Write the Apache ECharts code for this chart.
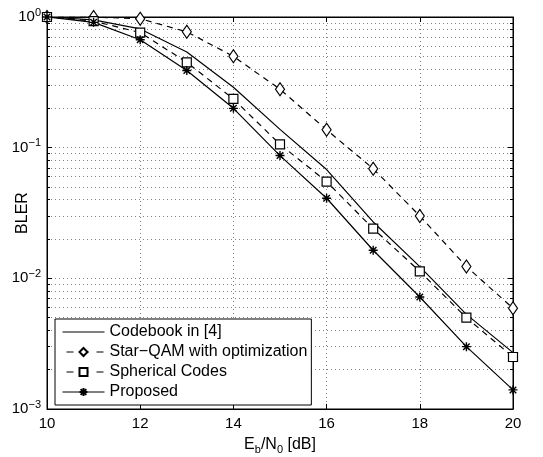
<!DOCTYPE html>
<html>
<head>
<meta charset="utf-8">
<script src="https://cdn.jsdelivr.net/npm/echarts@6/dist/echarts.min.js"></script>
<style>html,body{margin:0;padding:0;background:#fff}#c{width:543px;height:457px}</style>
</head>
<body>
<div id="c"></div>
<script>
var ebn0 = [10, 11, 12, 13, 14, 15, 16, 17, 18, 19, 20];
var codebook = [1.0, 0.95, 0.81, 0.54, 0.29, 0.138, 0.068, 0.027, 0.0123, 0.0053, 0.0027];
var starQAM = [1.0, 1.0, 0.97, 0.77, 0.50, 0.28, 0.137, 0.069, 0.030, 0.0123, 0.0059];
var spherical = [1.0, 0.93, 0.76, 0.45, 0.236, 0.106, 0.055, 0.024, 0.0113, 0.0050, 0.0025];
var proposed = [1.0, 0.91, 0.67, 0.39, 0.20, 0.087, 0.041, 0.0164, 0.0072, 0.0030, 0.0014];
var seriesNames = ['Codebook in [4]', 'Star\u2212QAM with optimization', 'Spherical Codes', 'Proposed'];

function pairs(v) { return ebn0.map(function (x, i) { return [x, v[i]]; }); }

var font = 'Liberation Sans';
var asterisk = 'path://M0,-5L0,5M-5,0L5,0M-3.6,-3.6L3.6,3.6M-3.6,3.6L3.6,-3.6';

var chart = echarts.init(document.getElementById('c'), null, {renderer: 'canvas'});
var gridLine = {show: true, lineStyle: {color: '#808080', type: [1, 3], width: 1}};
chart.setOption({
  animation: false,
  backgroundColor: '#fff',
  textStyle: {fontFamily: font},
  grid: {left: 47, right: 30, top: 17, bottom: 48, containLabel: false, outerBoundsMode: 'none',
    show: true, borderColor: '#000', borderWidth: 1, backgroundColor: 'transparent'},
  legend: {
    orient: 'vertical', left: 55, top: 319,
    backgroundColor: '#fff', borderColor: '#000', borderWidth: 1,
    padding: [5, 4, 5, 7], itemGap: 4, itemWidth: 42, itemHeight: 10,
    textStyle: {fontFamily: font, fontSize: 16, lineHeight: 16, color: '#000'},
    lineStyle: {width: 1},
    data: [
      {name: seriesNames[0], itemStyle: {color: 'transparent', borderWidth: 0, opacity: 0}},
      {name: seriesNames[1], lineStyle: {type: [7, 8], dashOffset: -4}},
      {name: seriesNames[2], lineStyle: {type: [7, 8], dashOffset: -4}},
      seriesNames[3]
    ]
  },
  xAxis: [{
    type: 'value', min: 10, max: 20, interval: 2,
    name: 'E{sub|b}/N{sub|0} [dB]', nameLocation: 'middle', nameGap: 26, nameMoveOverlap: false,
    nameTextStyle: {fontFamily: font, fontSize: 16, color: '#000',
      rich: {sub: {fontFamily: font, fontSize: 11, color: '#000', verticalAlign: 'bottom', padding: [9, 0, 0, 0]}}},
    axisLine: {show: true, lineStyle: {color: '#000'}},
    axisTick: {show: true, inside: true, length: 5, lineStyle: {color: '#000'}},
    axisLabel: {fontFamily: font, fontSize: 15, color: '#000', margin: 7},
    splitLine: gridLine
  }, {
    type: 'value', min: 10, max: 20, interval: 2, position: 'top',
    axisLine: {show: true, lineStyle: {color: '#000'}},
    axisTick: {show: true, inside: true, length: 5, lineStyle: {color: '#000'}},
    axisLabel: {show: false}, splitLine: {show: false}
  }],
  yAxis: [{
    type: 'log', logBase: 10, min: 0.001, max: 1,
    name: 'BLER', nameLocation: 'middle', nameGap: 16, nameRotate: 90, nameMoveOverlap: false,
    nameTextStyle: {fontFamily: font, fontSize: 16, color: '#000'},
    axisLine: {show: true, lineStyle: {color: '#000'}},
    axisTick: {show: true, inside: true, length: 5, lineStyle: {color: '#000'}},
    minorTick: {show: true, splitNumber: 9, length: 3, lineStyle: {color: '#000'}},
    minorSplitLine: {show: true, lineStyle: {color: '#808080', type: [1, 3], width: 1}},
    axisLabel: {
      fontFamily: font, fontSize: 15, color: '#000', margin: 6,
      formatter: function (v) {
        var e = Math.round(Math.log10(v));
        return '10{sup|' + (e < 0 ? '\u2212' + (-e) : e) + '}';
      },
      rich: {sup: {fontFamily: font, fontSize: 11, color: '#000', verticalAlign: 'top', padding: [0, 0, 9, 0]}}
    },
    splitLine: gridLine
  }, {
    type: 'log', logBase: 10, min: 0.001, max: 1, position: 'right',
    axisLine: {show: true, lineStyle: {color: '#000'}},
    axisTick: {show: true, inside: true, length: 5, lineStyle: {color: '#000'}},
    minorTick: {show: true, splitNumber: 9, length: 3, lineStyle: {color: '#000'}},
    axisLabel: {show: false}, splitLine: {show: false}
  }],
  series: [{
    name: seriesNames[0], type: 'line', data: pairs(codebook), symbol: 'none',
    lineStyle: {color: '#000', width: 1.2, type: 'solid'}, itemStyle: {color: '#000'}
  }, {
    name: seriesNames[1], type: 'line', data: pairs(starQAM), symbol: 'diamond', symbolSize: [9, 13],
    lineStyle: {color: '#000', width: 1.2, type: [6, 5]},
    itemStyle: {color: '#fff', borderColor: '#000', borderWidth: 1.2}
  }, {
    name: seriesNames[2], type: 'line', data: pairs(spherical), symbol: 'rect', symbolSize: 9,
    lineStyle: {color: '#000', width: 1.2, type: [6, 5]},
    itemStyle: {color: '#fff', borderColor: '#000', borderWidth: 1.2}
  }, {
    name: seriesNames[3], type: 'line', data: pairs(proposed), symbol: asterisk, symbolSize: 9,
    lineStyle: {color: '#000', width: 1.2, type: 'solid'},
    itemStyle: {color: '#000', borderColor: '#000', borderWidth: 1.4}
  }]
});
</script>
</body>
</html>
